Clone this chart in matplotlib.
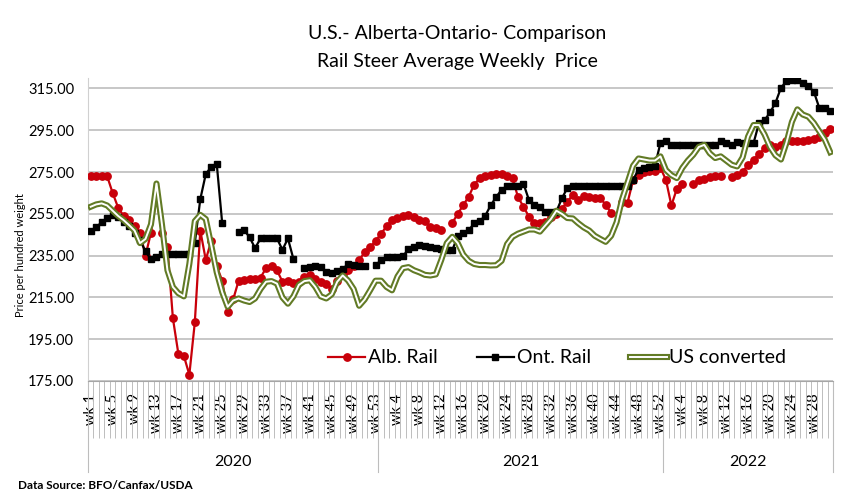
import numpy as np
import matplotlib
matplotlib.use("Agg")
import matplotlib.pyplot as plt
import matplotlib.transforms as mtransforms

plt.rcParams["font.family"] = ["Lato", "DejaVu Sans"]

years = ["2020", "2021", "2022"]
weeks_per_year = [53, 52, 31]

# Alberta rail steer price (None = no quote that week)
alb_2020 = [273, 273, 273, 273, 265, 258, 254, 252, 249, 246,
            235, 246, 263, 246, 239, 205, 188, 187, 178, 203,
            247, 233, 242, 230, 223, 208, 214, 223, 223.5, 224,
            224, 224.5, 229, 230, 228, 222.5, 223, 222, 222.5, 225,
            225.5, 224, 222.5, 221.5, 219, 223, 226, 228, 230, 233,
            236.5, 239, 242]
alb_2021 = [245.5, 249, 252, 253, 253.8, 254.4, 253.6, 252, 251.5, 248.8,
            248, 247.2, None, 250.7, 255, 259.2, 263.2, 269, 272, 273.2,
            273.5, 274, 274, 273, 272, 263, 258.4, 253.6, 250.7, 250.5,
            251, 253.6, 255, 257.5, 260.8, 264, 261.6, 263.5, 263, 262.8,
            262.8, 259.2, 255.5, None, 260.8, 260.4, 271, 273.5, 275, 275.3,
            275.5, 277]
alb_2022 = [271.3, 259, 267, 269.4, None, 269.4, 271.3, 271.6, 272.8, 273.2,
            273.2, None, 272.6, 273.7, 275, 278.5, 281, 283.5, 286.5, 288,
            287, 288, 289.7, 290, 290, 289.7, 290.5, 291, 292, 293.7,
            295.6]

# Ontario rail steer price
ont_2020 = [247, 248.5, 251, 253, 254.5, 253.5, 251, 249, 246, 242.4,
            237, 233.2, 234.5, 236, 236, 236, 236, 236, 236, 241,
            262, 274, 277.5, 279, 250.5, None, None, 246.4, 247.2, 243.8,
            238.6, 243.2, 243.2, 243.2, 243.2, 237.8, 243.2, 233.4, None, 229,
            229.6, 230, 229.5, 227.2, 226.6, 227.5, 228.8, 230.8, 230.4, 230.2,
            230.1, None, 230.4]
ont_2021 = [232.8, 234.4, 234.4, 234.4, 234.8, 238, 238.9, 240, 239.5, 239,
            238.5, 238, 237.6, 237.6, 244.3, 245.6, 247.2, 250.4, 251.5, 254,
            259, 263, 266.5, 268.4, 268.4, 268.4, 269.4, 261.6, 259.2, 258.4,
            256, 256, 256, 262.4, 267.3, 268.4, 268.4, 268.4, 268.4, 268.4,
            268.4, 268.4, 268.4, 268.4, 268.4, 268.4, 271.3, 276.1, 276.9, 277.4,
            278, 288.9]
ont_2022 = [289.7, 288.1, 288.1, 288.1, 288.1, 288.1, 288.1, 288.1, 288.1, 288.1,
            289.7, 288.9, 288.1, 289.2, 289, 289, 288.9, 298.5, 299.8, 303.5,
            308.1, 315.3, 318.5, 319, 319, 317.7, 316, 313.5, 305.7, 305.7,
            304.1]

# US price converted to CAD
us_2020 = [258.4, 259.5, 260, 259, 256.5, 254, 252, 249.6, 247, 241,
           243, 250, 269.5, 250, 228, 220, 217, 215.5, 231, 251.5,
           254.5, 252.5, 240, 227, 217.5, 210.5, 213.5, 214.5, 213.5, 212.8,
           214.5, 219, 222.5, 222.8, 221.6, 215, 212, 215.5, 221, 222.8,
           223.2, 220, 215.5, 214.5, 216.5, 222.5, 225.5, 223, 219, 211,
           214, 218.4, 223]
us_2021 = [223, 220, 218.4, 225, 229, 229.5, 228, 227, 225.8, 225.5,
           226, 233, 241, 244, 241, 235.5, 232.5, 231, 230.5, 230.5,
           230.3, 230.4, 232.5, 240.5, 244, 245.5, 246.5, 247.5, 247.5, 246.5,
           249.5, 252.5, 256.5, 255, 253, 252.8, 250.5, 248.5, 247, 244.5,
           243, 241.6, 244.5, 251, 262, 270, 278, 281.5, 281, 280.5,
           280.5, 282.5]
us_2022 = [276, 273.5, 272.1, 277, 280.5, 283.3, 287, 288, 284, 281.7,
           282.5, 280.5, 278.5, 277.7, 282, 292, 297.5, 297.5, 293, 287,
           283, 281, 289, 299, 305, 302.5, 301.5, 298.5, 294.5, 290.5,
           284.5]

alb = np.array(alb_2020 + alb_2021 + alb_2022, dtype=float)
ont = np.array(ont_2020 + ont_2021 + ont_2022, dtype=float)
us = np.array(us_2020 + us_2021 + us_2022, dtype=float)

week_names = []
for n in weeks_per_year:
    week_names += ["wk %d" % (w + 1) for w in range(n)]
n_cat = len(week_names)
x = np.arange(n_cat)

olive = "#627b26"

fig = plt.figure(figsize=(8.42, 4.96), dpi=100)
ax = fig.add_axes([0.1045, 0.2319, 0.8848, 0.6108])

h_alb, = ax.plot(x, alb, color="#c8000a", lw=1.6, marker="o", ms=5.3, zorder=3)
h_ont, = ax.plot(x, ont, color="black", lw=1.6, marker="s", ms=4.3, zorder=4)
h_us1, = ax.plot(x, us, color=olive, lw=4.4, zorder=5)
h_us2, = ax.plot(x, us, color="white", lw=1.4, zorder=6)

ax.set_ylim(175, 320)
ax.set_yticks(np.arange(175, 316, 20))
ax.set_yticklabels(["%.2f" % v for v in np.arange(175, 316, 20)])
ax.yaxis.grid(True, color="#bdbdbd", lw=1.2)
ax.set_axisbelow(True)
ax.tick_params(axis="y", length=0, labelsize=10.5, pad=10)

ax.set_xlim(-0.5, n_cat - 0.5)
label_idx = np.arange(0, n_cat, 4)
ax.set_xticks(label_idx)
ax.set_xticklabels([week_names[i] for i in label_idx], rotation=90)
ax.set_xticks(np.arange(n_cat + 1) - 0.5, minor=True)
ax.tick_params(axis="x", which="major", length=0, labelsize=10.5, pad=9)
ax.tick_params(axis="x", which="minor", length=41, width=0.7, color="#bdbdbd")

for s in ["top", "right"]:
    ax.spines[s].set_visible(False)
ax.spines["left"].set_color("#d0d0d0")
ax.spines["bottom"].set_color("#a6a6a6")

# year groups under the week labels
trans = mtransforms.blended_transform_factory(ax.transData, ax.transAxes)
start = -0.5
for yr, n in zip(years, weeks_per_year):
    ax.plot([start, start], [0, -0.30], transform=trans, clip_on=False,
            color="#bdbdbd", lw=0.8)
    ax.text(start + n / 2, -0.267, yr, transform=trans, ha="center",
            va="center", fontsize=11.5)
    start += n
ax.plot([start, start], [0, -0.30], transform=trans, clip_on=False,
        color="#bdbdbd", lw=0.8)

ax.legend([h_alb, h_ont, (h_us1, h_us2)],
          ["Alb. Rail", "Ont. Rail", "US converted"],
          loc="center", bbox_to_anchor=(0.63, 0.076), ncol=3, frameon=False,
          fontsize=14, handlelength=1.9, handletextpad=0.15,
          columnspacing=2.0)

fig.text(0.543, 0.933, "U.S.- Alberta-Ontario- Comparison", ha="center",
         va="center", fontsize=14)
fig.text(0.543, 0.877, "Rail Steer Average Weekly  Price", ha="center",
         va="center", fontsize=14)
fig.text(0.024, 0.486, "Price per hundred weight", rotation=90,
         ha="center", va="center", fontsize=8)
fig.text(0.021, 0.022, "Data Source: BFO/Canfax/USDA", ha="left",
         va="center", fontsize=8.5, fontweight="bold")

fig.savefig("out.png", dpi=100)
